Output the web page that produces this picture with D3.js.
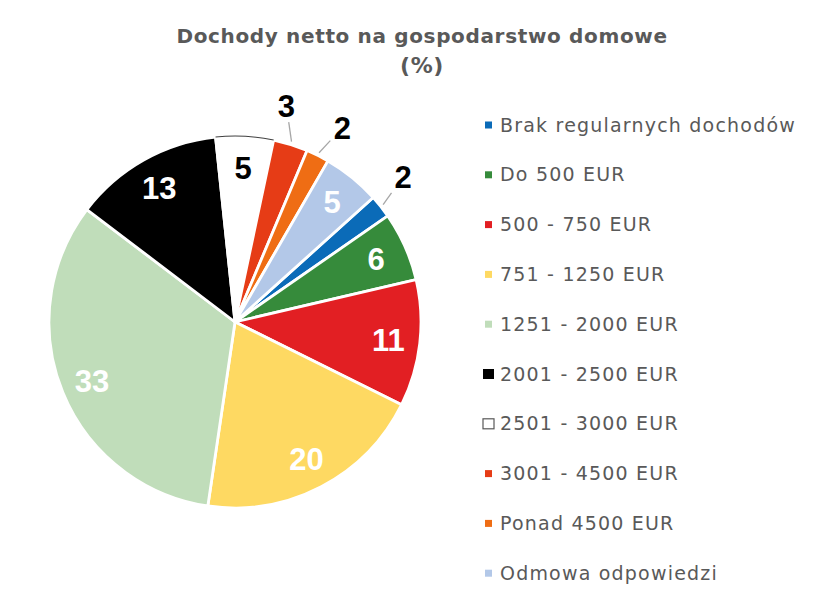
<!DOCTYPE html>
<html>
<head>
<meta charset="utf-8">
<script src="https://cdn.jsdelivr.net/npm/d3@7"></script>
<style>
  html, body { margin: 0; padding: 0; background: #fff; }
</style>
</head>
<body>
<svg id="chart" width="818" height="589"></svg>
<script>
// data
const categories = [
  'Brak regularnych dochodów', 'Do 500 EUR', '500 - 750 EUR', '751 - 1250 EUR',
  '1251 - 2000 EUR', '2001 - 2500 EUR', '2501 - 3000 EUR', '3001 - 4500 EUR',
  'Ponad 4500 EUR', 'Odmowa odpowiedzi'
];
const values = [2, 6, 11, 20, 33, 13, 5, 3, 2, 5];
const colors = ['#0b6bb8', '#368b3b', '#e21f23', '#fed962', '#c0ddba',
  '#000000', '#ffffff', '#e63c16', '#ef6d14', '#b3c8e8'];
const labelColors = ['#000', '#fff', '#fff', '#fff', '#fff', '#fff', '#000', '#000', '#000', '#fff'];
const outsideLabel = [true, false, false, false, false, false, false, true, true, false];

const title = ['Dochody netto na gospodarstwo domowe', '(%)'];

const svg = d3.select('#chart');
const textGray = '#595959';

// title
svg.append('text')
    .attr('x', 422).attr('y', 43)
    .attr('text-anchor', 'middle')
    .attr('font-family', 'DejaVu Sans')
    .attr('font-weight', 'bold')
    .attr('font-size', 20)
    .attr('letter-spacing', 0.65)
    .attr('fill', textGray)
  .selectAll('tspan')
  .data(title)
  .join('tspan')
    .attr('x', 422)
    .attr('dy', (d, i) => i === 0 ? 0 : 30)
    .attr('font-size', (d, i) => i === 0 ? 20 : 22)
    .text(d => d);

// pie
const cx = 235, cy = 322, R = 186;
const startDeg = 48;

const pie = d3.pie()
    .sort(null)
    .value(d => d.value)
    .startAngle(startDeg * Math.PI / 180)
    .endAngle((startDeg + 360) * Math.PI / 180);

const data = categories.map((c, i) => ({
  name: c, value: values[i], color: colors[i],
  labelColor: labelColors[i], outside: outsideLabel[i]
}));
const arcs = pie(data);

const arc = d3.arc().innerRadius(0).outerRadius(R);
const g = svg.append('g').attr('transform', `translate(${cx},${cy})`);

g.selectAll('path.slice')
  .data(arcs)
  .join('path')
    .attr('class', 'slice')
    .attr('d', arc)
    .attr('fill', d => d.data.color)
    .attr('stroke', '#fff')
    .attr('stroke-width', 2.8)
    .attr('stroke-linejoin', 'round');

// thin outline on the white slice's rim
const rimArc = d3.arc().innerRadius(R - 0.5).outerRadius(R + 0.5);
g.selectAll('path.rim')
  .data(arcs.filter(d => d.data.color === '#ffffff'))
  .join('path')
    .attr('class', 'rim')
    .attr('d', rimArc)
    .attr('fill', '#404040');

// labels
const inArc = d3.arc().innerRadius(R * 0.83).outerRadius(R * 0.83);
const outR = 222;
const midAngle = d => (d.startAngle + d.endAngle) / 2;
const polar = (a, r) => [Math.sin(a) * r, -Math.cos(a) * r];

// outside labels are nudged a little, like the original layout
const outShift = { 0: -2.4, 7: -4, 8: 2.5 };

const labelPos = (d, i) => {
  if (!d.data.outside) return inArc.centroid(d);
  const a = midAngle(d) + (outShift[i] || 0) * Math.PI / 180;
  return polar(a, outR);
};

// leader lines for outside labels
arcs.forEach((d, i) => {
  if (!d.data.outside) return;
  const a = midAngle(d);
  const p0 = polar(a, R + 3);
  const p1 = labelPos(d, i);
  // stop at the edge of the label box
  const dx = p0[0] - p1[0], dy = p0[1] - p1[1];
  const k = Math.min(12 / Math.abs(dx || 1e-6), 16 / Math.abs(dy || 1e-6));
  const end = [p1[0] + dx * k, p1[1] + dy * k];
  g.append('line')
      .attr('x1', p0[0]).attr('y1', p0[1])
      .attr('x2', end[0]).attr('y2', end[1])
      .attr('stroke', '#a6a6a6')
      .attr('stroke-width', 1.3);
});

g.selectAll('text.lbl')
  .data(arcs)
  .join('text')
    .attr('class', 'lbl')
    .attr('transform', (d, i) => `translate(${labelPos(d, i)})`)
    .attr('text-anchor', 'middle')
    .attr('dy', '0.36em')
    .attr('font-family', 'Liberation Sans, Arial, sans-serif')
    .attr('font-weight', 'bold')
    .attr('font-size', 31)
    .attr('fill', d => d.data.labelColor)
    .text(d => d.data.value);

// legend
const legendX = 500, legendY0 = 131.5, legendStep = 49.8;
const legend = svg.append('g');
const items = legend.selectAll('g')
  .data(data)
  .join('g')
    .attr('transform', (d, i) => `translate(${legendX},${legendY0 + i * legendStep})`);

items.append('rect')
    .each(function(d) {
      const big = d.color === '#000000' || d.color === '#ffffff';
      const w = big ? 11 : 7, h = big ? 10 : 7;
      d3.select(this)
        .attr('x', big ? -17 : -15)
        .attr('y', -6.5 - h / 2)
        .attr('width', w)
        .attr('height', h)
        .attr('fill', d.color)
        .attr('stroke', d.color === '#ffffff' ? '#595959' : 'none')
        .attr('stroke-width', 1.2);
    });

items.append('text')
    .attr('font-family', 'DejaVu Sans')
    .attr('font-size', 19)
    .attr('letter-spacing', 1.2)
    .attr('fill', textGray)
    .text(d => d.name);
</script>
</body>
</html>
